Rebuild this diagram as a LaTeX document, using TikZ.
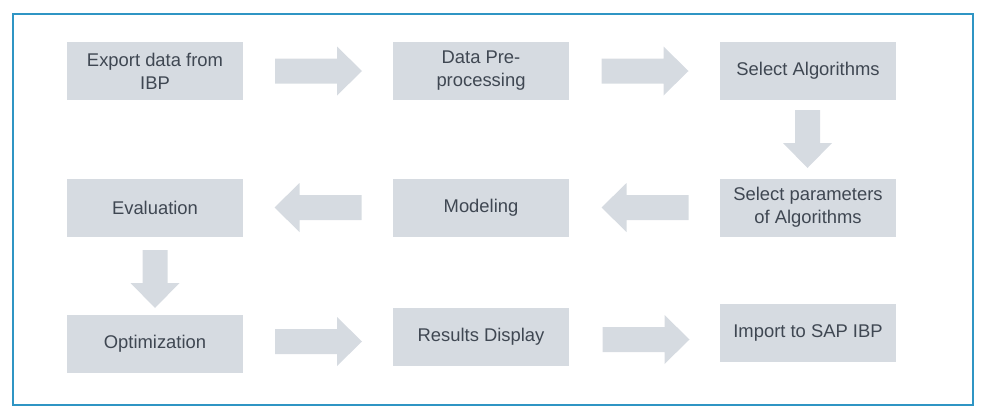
\documentclass[tikz,border=0pt]{standalone}
\usepackage{fontspec}
\setmainfont{Liberation Sans}
\definecolor{boxfill}{HTML}{D6DBE1}
\definecolor{boxtext}{HTML}{3F4752}
\definecolor{framecol}{HTML}{2F95C4}
\tikzset{
  stepbox/.style={fill=boxfill, text=boxtext, minimum width=176pt, minimum height=58pt,
    inner sep=2pt, align=center, font=\fontsize{18.4}{23}\selectfont},
  pics/blockarrow/.style={code={
    \fill[boxfill] (-#1/2,-12.5) -- (#1/2-25,-12.5) -- (#1/2-25,-24.5) -- (#1/2,0)
      -- (#1/2-25,24.5) -- (#1/2-25,12.5) -- (-#1/2,12.5) -- cycle;}},
  pics/blockarrow/.default=87
}
\begin{document}
\begin{tikzpicture}[x=1pt,y=-1pt]
  \useasboundingbox (0,0) rectangle (984,418);
  \draw[framecol, line width=2pt] (13,14) rectangle (973,405);
  % first row
  \node[stepbox] (export) at (155,71) {Export data from\\IBP};
  \node[stepbox] (prep) at (481,71) {Data Pre-\\processing};
  \node[stepbox] (algo) at (808,71) {Select Algorithms};
  % second row
  \node[stepbox] (param) at (808,207.5) {Select parameters\\of Algorithms};
  \node[stepbox] (model) at (481,207.5) {Modeling};
  \node[stepbox] (eval) at (155,207.5) {Evaluation};
  % third row
  \node[stepbox] (optim) at (155,344) {Optimization};
  \node[stepbox] (result) at (481,336.5) {Results Display};
  \node[stepbox] (import) at (808,332.5) {Import to SAP IBP};
  % block arrows
  \pic (a1) at (318.5,71) {blockarrow};
  \pic (a2) at (645,71) {blockarrow};
  \pic[rotate=-90] (a3) at (807.5,139) {blockarrow=58};
  \pic[rotate=180] (a4) at (645,207.5) {blockarrow};
  \pic[rotate=180] (a5) at (318,207.5) {blockarrow};
  \pic[rotate=-90] (a6) at (155,279) {blockarrow=58};
  \pic (a7) at (318.5,341.5) {blockarrow};
  \pic (a8) at (646,339.5) {blockarrow};
\end{tikzpicture}
\end{document}
